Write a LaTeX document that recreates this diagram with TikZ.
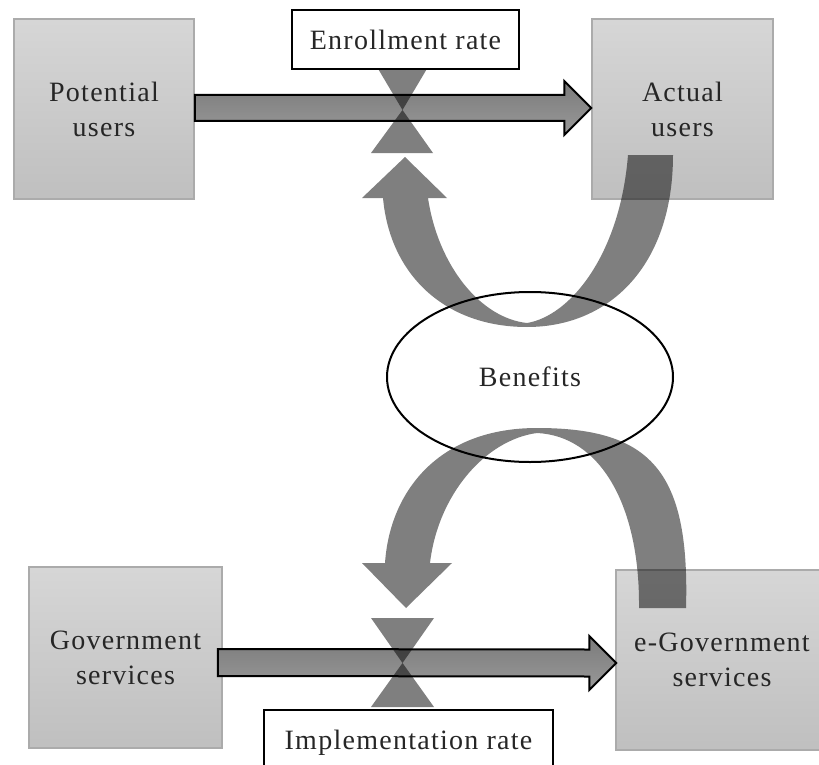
\documentclass[tikz,border=0pt]{standalone}
\usepackage{fontspec}
\setmainfont[LetterSpace=4.5]{Liberation Serif}
\usetikzlibrary{shapes.geometric,calc}

\tikzset{
  stock/.style={draw=black!33, line width=1.5pt, top color=black!16, bottom color=black!25,
    align=center, inner sep=0pt, text=black!85},
  ratebox/.style={draw=black, line width=1.6pt, fill=white, align=center, inner sep=0pt, text=black!85},
  flowpipe/.style={draw=black, line width=2pt, line join=miter, top color=black!52, bottom color=black!40},
  valve/.style={fill=black, fill opacity=0.5},
  loopband/.style={fill=black, fill opacity=0.5},
}

\begin{document}
\begin{tikzpicture}[x=1pt,y=1pt,yscale=-1,xscale=1,font=\fontsize{28}{35}\selectfont]
        \useasboundingbox (0,0) rectangle (819,765);
        \clip (0,0) rectangle (819,765);
        %Shape: Rectangle [stocks]
        \node[stock, minimum width=180pt, minimum height=180pt] (pot) at (104,109) {Potential\\users};
        \node[stock, minimum width=181pt, minimum height=180pt] (act) at (682.5,109) {Actual\\users};
        \node[stock, minimum width=193pt, minimum height=181pt] (gov) at (125.5,657.5) {Government\\services};
        \node[stock, minimum width=212pt, minimum height=180pt] (egov) at (722,660) {e-Government\\services};
        %Shape: Ellipse
        \node[ellipse, draw=black, line width=2pt, minimum width=286pt, minimum height=170pt, text=black!85] (ben) at (530,377) {Benefits};

        %Straight Lines [flows]
        \coordinate (p0) at ($(pot.east)+(0,-1)$);
        \coordinate (p1) at ($(act.west)+(0,-1)$);
        \draw[flowpipe] ($(p0)+(0,-13)$) -- ($(p1)+(-27,-13)$) -- ($(p1)+(-27,-27)$) -- (p1)
          -- ($(p1)+(-27,27)$) -- ($(p1)+(-27,13)$) -- ($(p0)+(0,13)$) -- cycle;
        \coordinate (g0) at ($(gov.east)+(-5,5)$);
        \coordinate (g1) at ($(egov.west)+(1,3)$);
        \draw[flowpipe] ($(g0)+(0,-13.5)$) -- ($(g1)+(-27,-13.5)$) -- ($(g1)+(-27,-27)$) -- (g1)
          -- ($(g1)+(-27,27)$) -- ($(g1)+(-27,13.5)$) -- ($(g0)+(0,13.5)$) -- cycle;

        %Shape: Bowtie [valves]
        \fill[valve] (377,67) -- (428,67) -- (402.5,110) -- (433,153) -- (371,153) -- (402.5,110) -- cycle;
        \fill[valve] (371,618) -- (434,618) -- (402.5,663) -- (434,707) -- (371,707) -- (402.5,663) -- cycle;

        %Curve Lines [feedback from actual users]
        \fill[loopband] (628,155) -- (673,155) .. controls (673,265) and (610,327) .. (527,327)
          .. controls (445,327) and (390,275) .. (383,198) -- (362,198) -- (405,157) -- (447,198) -- (428,198)
          .. controls (438,265) and (480,318) .. (527,323) .. controls (570,316) and (620,255) .. (628,155) -- cycle;
        %Curve Lines [feedback to implementation]
        \fill[loopband] (639,608) -- (686,608) .. controls (690,470) and (650,428) .. (537,428)
          .. controls (440,428) and (390,490) .. (385,563) -- (362,563) -- (406,608) -- (452,563) -- (430,563)
          .. controls (438,495) and (485,440) .. (537,433) .. controls (600,436) and (640,505) .. (639,608) -- cycle;

        % Text Node
        \node[ratebox, minimum width=227pt, minimum height=59pt] (er) at (405.5,39.5) {Enrollment rate};
        % Text Node
        \node[ratebox, minimum width=289pt, minimum height=66pt] (ir) at (408.5,743) {Implementation rate};
    \end{tikzpicture}
\end{document}
